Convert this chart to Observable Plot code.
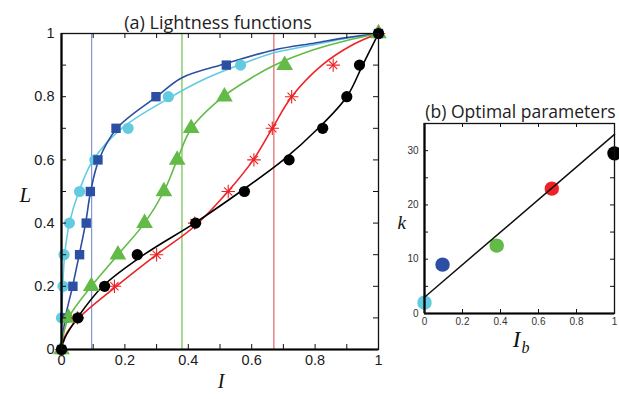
<!DOCTYPE html>
<html><head><meta charset="utf-8">
<script src="https://cdn.jsdelivr.net/npm/d3@7"></script>
<script src="https://cdn.jsdelivr.net/npm/@observablehq/plot@0.6"></script>
<style>
body{margin:0;background:#fff;}
#wrap{position:relative;width:619px;height:399px;overflow:hidden;background:#fff;}
#wrap svg{position:absolute;top:0;}
</style></head><body><div id="wrap"></div>
<script>
// ---------- data: panel (a) markers (L levels and intensity I per series) ----------
const lightLevels = [0, 0.1, 0.2, 0.3, 0.4, 0.5, 0.6, 0.7, 0.8, 0.9, 1];
const cyanMarkI  = [0, 0, 0.005, 0.008, 0.025, 0.057, 0.105, 0.21, 0.337, 0.565, 1];
const blueMarkI  = [0, 0.01, 0.036, 0.057, 0.078, 0.091, 0.115, 0.172, 0.298, 0.52, 1];
const greenMarkI = [0, 0.022, 0.094, 0.178, 0.262, 0.323, 0.365, 0.409, 0.514, 0.704, 1];
const redMarkI   = [0, 0.05, 0.167, 0.3, 0.42, 0.526, 0.607, 0.665, 0.726, 0.857, 1];
const blackMarkI = [0, 0.052, 0.136, 0.239, 0.423, 0.577, 0.718, 0.824, 0.9, 0.94, 1];

// ---------- data: panel (a) fitted curves ----------
const cyanCurveI  = [0, 0.001, 0.004, 0.01, 0.025, 0.055, 0.1, 0.19, 0.33, 0.45, 0.56, 0.67, 0.8, 0.9, 1];
const cyanCurveL  = [0, 0.1, 0.2, 0.3, 0.4, 0.5, 0.6, 0.7, 0.79, 0.855, 0.9, 0.939, 0.965, 0.985, 1];
const blueCurveI  = [0, 0.012, 0.035, 0.056, 0.076, 0.092, 0.118, 0.175, 0.3, 0.38, 0.52, 0.67, 0.8, 0.9, 1];
const blueCurveL  = [0, 0.1, 0.2, 0.3, 0.4, 0.5, 0.6, 0.7, 0.8, 0.86, 0.905, 0.948, 0.97, 0.987, 1];
const greenCurveI = [0, 0.005, 0.022, 0.094, 0.178, 0.262, 0.323, 0.365, 0.41, 0.51, 0.6, 0.67, 0.8, 0.9, 1];
const greenCurveL = [0, 0.04, 0.1, 0.2, 0.3, 0.4, 0.5, 0.6, 0.7, 0.8, 0.86, 0.899, 0.95, 0.978, 1];
const redCurveI   = [0, 0.01, 0.055, 0.167, 0.3, 0.42, 0.525, 0.605, 0.665, 0.726, 0.822, 0.92, 1];
const redCurveL   = [0, 0.04, 0.1, 0.195, 0.3, 0.39, 0.5, 0.6, 0.7, 0.8, 0.9, 0.965, 1];
const blackCurveI = [0, 0.01, 0.05, 0.13, 0.26, 0.42, 0.565, 0.7, 0.81, 0.9, 0.95, 1];
const blackCurveL = [0, 0.035, 0.1, 0.2, 0.3, 0.4, 0.5, 0.6, 0.7, 0.8, 0.9, 1];

// ---------- data: panel (b) optimal parameters ----------
const seriesNames = ["cyan", "blue", "green", "red", "black"];
const optimalIb = [0, 0.095, 0.38, 0.67, 1];
const optimalK  = [2, 9, 12.5, 23, 29.5];
const fitIb = [0, 1];
const fitK  = [3, 33];

// ---------- tick labels ----------
const tickA = [0, 0.2, 0.4, 0.6, 0.8, 1];
const minorA = [0, 0.1, 0.2, 0.3, 0.4, 0.5, 0.6, 0.7, 0.8, 0.9, 1];
const tickBx = [0, 0.2, 0.4, 0.6, 0.8, 1];
const tickBy = [0, 10, 20, 30];
const minorBy = [0, 5, 10, 15, 20, 25, 30, 35];

// ---------- styling ----------
const colors = {cyan: "#63cbe0", blue: "#2c4ea3", green: "#62bb46", red: "#ee2226", black: "#000000"};
const vlineColors = {blue: "#8696d2", green: "#6cc04a", red: "#d8474a"};

const markI = {cyan: cyanMarkI, blue: blueMarkI, green: greenMarkI, red: redMarkI, black: blackMarkI};
const curves = {
  cyan: [cyanCurveI, cyanCurveL], blue: [blueCurveI, blueCurveL], green: [greenCurveI, greenCurveL],
  red: [redCurveI, redCurveL], black: [blackCurveI, blackCurveL]
};
const fmt = d => String(+(+d).toFixed(1));
const sans = "Liberation Sans, Arial, sans-serif";
const serif = "Liberation Serif, Times New Roman, serif";
const titleFont = "Open Sans, sans-serif";

// panel (a)
const W1 = 400, H1 = 399, mL1 = 61, mR1 = 22, mT1 = 33, mB1 = 50;
const pw1 = W1 - mL1 - mR1, ph1 = H1 - mT1 - mB1;
const marksA = [];
// vertical lines at the optimal I_b of blue, green, red
["blue", "green", "red"].forEach(s => {
  const i = seriesNames.indexOf(s);
  marksA.push(Plot.ruleX([optimalIb[i]], {x: d => d, stroke: vlineColors[s], strokeWidth: s === "red" ? 1 : 1.2}));
});
const order = ["cyan", "blue", "green", "red", "black"];
order.forEach(s => {
  const [ci, cl] = curves[s];
  const cdata = ci.map((v, k) => ({I: v, L: cl[k]}));
  marksA.push(Plot.line(cdata, {x: "I", y: "L", stroke: colors[s], strokeWidth: 1.6, curve: "catmull-rom"}));
});
order.forEach(s => {
  const mdata = markI[s].map((v, k) => ({I: v, L: lightLevels[k]}));
  if (s === "cyan" || s === "black") {
    marksA.push(Plot.dot(mdata, {x: "I", y: "L", r: 5.6, fill: colors[s]}));
  } else if (s === "blue") {
    marksA.push(Plot.dot(mdata, {x: "I", y: "L", symbol: "square", r: 5.3, fill: colors[s]}));
  } else if (s === "green") {
    marksA.push(Plot.dot(mdata, {x: "I", y: "L", symbol: "triangle", r: 6.2, fill: colors[s]}));
  } else if (s === "red") {
    marksA.push(Plot.dot(mdata, {x: "I", y: "L", symbol: "plus", r: 4.4, stroke: colors[s], strokeWidth: 1.1}));
    marksA.push(Plot.dot(mdata, {x: "I", y: "L", symbol: "times", r: 3.8, stroke: colors[s], strokeWidth: 1.1}));
  }
});
// frame, inward ticks, tick labels
marksA.push(Plot.frame({stroke: "#111", strokeWidth: 1.3}));
marksA.push(Plot.ruleX([0], {x: d => d, stroke: "#000", strokeWidth: 2.2}));
marksA.push(Plot.ruleY([0], {y: d => d, stroke: "#000", strokeWidth: 2.2}));
marksA.push(Plot.tickX(minorA, {x: d => d, insetTop: ph1 - 5, stroke: "#111"}));
marksA.push(Plot.tickX(minorA, {x: d => d, insetBottom: ph1 - 5, stroke: "#111"}));
marksA.push(Plot.tickY(minorA, {y: d => d, insetRight: pw1 - 5, stroke: "#111"}));
marksA.push(Plot.tickY(minorA, {y: d => d, insetLeft: pw1 - 5, stroke: "#111"}));
marksA.push(Plot.text(tickA, {x: d => d, frameAnchor: "bottom", dy: 15, text: fmt, fontSize: 14.5, fontFamily: sans, fill: "#1a1a1a"}));
marksA.push(Plot.text(tickA, {y: d => d, frameAnchor: "left", dx: -7, textAnchor: "end", text: fmt, fontSize: 14.5, fontFamily: sans, fill: "#1a1a1a"}));
// title and axis labels
marksA.push(Plot.text(["(a) Lightness functions"], {frameAnchor: "top", dx: -2, dy: -17, fontSize: 18, fontFamily: titleFont, fill: "#222"}));
marksA.push(Plot.text(["L"], {frameAnchor: "left", dx: -42, dy: 4, fontSize: 21, fontFamily: serif, fontStyle: "italic", fill: "#111"}));
marksA.push(Plot.text(["I"], {frameAnchor: "bottom", dx: 1, dy: 38, fontSize: 20, fontFamily: serif, fontStyle: "italic", fill: "#111"}));

const plotA = Plot.plot({
  width: W1, height: H1, marginLeft: mL1, marginRight: mR1, marginTop: mT1, marginBottom: mB1,
  x: {domain: [0, 1], axis: null}, y: {domain: [0, 1], axis: null},
  style: {fontFamily: sans, background: "transparent", overflow: "visible"},
  marks: marksA
});
plotA.style.left = "0px";

// panel (b)
const X2 = 380, W2 = 239, H2 = 399, mL2 = 44, mR2 = 5, mT2 = 123, mB2 = 86;
const pw2 = W2 - mL2 - mR2, ph2 = H2 - mT2 - mB2;
const bdata = optimalIb.map((v, i) => ({Ib: v, k: optimalK[i], c: colors[seriesNames[i]]}));
const fdata = fitIb.map((v, i) => ({Ib: v, k: fitK[i]}));
const marksB = [
  Plot.dot(bdata, {x: "Ib", y: "k", r: 7.2, fill: d => d.c, clip: false}),
  Plot.line(fdata, {x: "Ib", y: "k", stroke: "#111", strokeWidth: 1.5}),
  Plot.frame({stroke: "#111", strokeWidth: 1.3}),
  Plot.ruleX([0], {x: d => d, stroke: "#000", strokeWidth: 2.2}),
  Plot.ruleY([0], {y: d => d, stroke: "#000", strokeWidth: 2.2}),
  Plot.tickX(tickBx, {x: d => d, insetTop: ph2 - 4, stroke: "#111"}),
  Plot.tickX(tickBx, {x: d => d, insetBottom: ph2 - 4, stroke: "#111"}),
  Plot.tickY(minorBy, {y: d => d, insetRight: pw2 - 4, stroke: "#111"}),
  Plot.tickY(minorBy, {y: d => d, insetLeft: pw2 - 4, stroke: "#111"}),
  Plot.text(tickBx, {x: d => d, frameAnchor: "bottom", dy: 11, text: fmt, fontSize: 10, fontFamily: sans, fill: "#333"}),
  Plot.text(tickBy, {y: d => d, frameAnchor: "left", dx: -6, textAnchor: "end", text: d => String(d), fontSize: 10, fontFamily: sans, fill: "#333"}),
  Plot.text(["(b) Optimal parameters"], {frameAnchor: "top", dx: 1, dy: -18, fontSize: 17.5, fontFamily: titleFont, fill: "#222"}),
  Plot.text(["k"], {frameAnchor: "left", dx: -27, dy: 4, fontSize: 19, fontFamily: serif, fontStyle: "italic", fill: "#111"}),
  Plot.text(["I"], {frameAnchor: "bottom", dx: -3, dy: 33, fontSize: 23, fontFamily: serif, fontStyle: "italic", fill: "#111"}),
  Plot.text(["b"], {frameAnchor: "bottom", dx: 6, dy: 39, fontSize: 16, fontFamily: serif, fontStyle: "italic", fill: "#111"})
];
const plotB = Plot.plot({
  width: W2, height: H2, marginLeft: mL2, marginRight: mR2, marginTop: mT2, marginBottom: mB2,
  x: {domain: [0, 1], axis: null}, y: {domain: [0, 35], axis: null},
  style: {fontFamily: sans, background: "transparent", overflow: "visible"},
  marks: marksB
});
plotB.style.left = X2 + "px";

const wrap = document.getElementById("wrap");
wrap.appendChild(plotA);
wrap.appendChild(plotB);
</script></body></html>
